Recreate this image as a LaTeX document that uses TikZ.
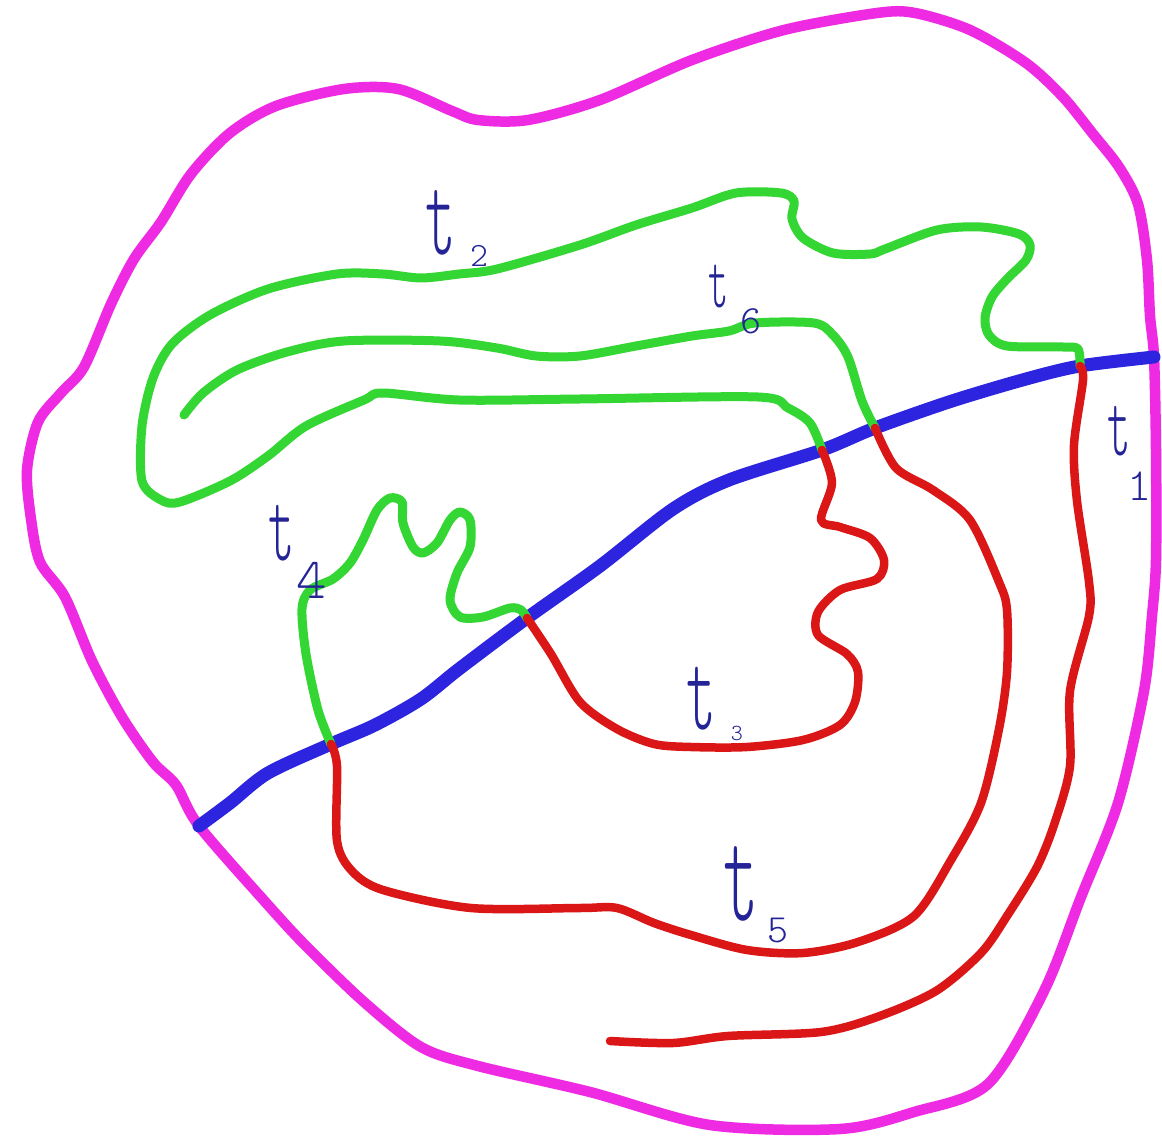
\documentclass[tikz,border=0pt]{standalone}
\definecolor{magC}{RGB}{238,42,226}
\definecolor{grnC}{RGB}{52,214,52}
\definecolor{bluC}{RGB}{44,36,222}
\definecolor{redC}{RGB}{218,22,22}
\definecolor{labC}{RGB}{36,36,150}
\tikzset{
  outline/.style={draw=magC, line width=10.5pt, line join=round},
  cutline/.style={draw=bluC, line width=13pt, line cap=round},
  gcurve/.style={draw=grnC, line width=9pt, line cap=round, line join=round},
  rcurve/.style={draw=redC, line width=8.5pt, line cap=round, line join=round},
  lab/.style={text=labC, inner sep=0pt, anchor=base},
}
\newcommand{\labfont}[1]{\fontsize{#1}{#1}\ttfamily\fontseries{l}\selectfont}
\begin{document}
\begin{tikzpicture}[x=1pt,y=-1pt]
\useasboundingbox (0,0) rectangle (1162,1147);
\fill[white] (0,0) rectangle (1162,1147);
% junctions
\coordinate (J1) at (1080,366);
\coordinate (J2) at (822,450);
\coordinate (J6) at (875,428);
\coordinate (J3) at (527,618);
\coordinate (J4) at (331,744);
\coordinate (B0) at (199,826);
\coordinate (B1) at (1154,357);
% magenta outline
\draw[outline] plot[smooth cycle, tension=0.5] coordinates {
(528,120) (600,100) (692,60) (784,30) (877,13) (915,13) (970,30) (1026,63)
(1063,97) (1093,134) (1119,167) (1138,204) (1147,260) (1150,316) (1154,357)
(1156,450) (1156,560) (1152,616) (1144,691) (1118,803) (1081,897) (1044,991)
(988,1084) (914,1112) (840,1129) (710,1125) (590,1092) (478,1066) (421,1047)
(364,1002) (306,946) (268,905) (199,826) (176,785) (153,762) (122,717) (92,661)
(65,597) (40,562) (31,519) (27,470) (38,422) (61,393) (84,367) (111,304)
(134,259) (161,222) (191,174) (230,133) (276,106) (344,89) (398,89) (452,111)
(478,120)};
% blue cut
\draw[cutline] plot[smooth, tension=0.5] coordinates {
(B0) (230,803) (268,773) (J4) (375,725) (421,699) (459,669) (J3) (600,566)
(673,509) (729,480) (J2) (J6) (952,401) (1026,379) (J1) (B1)};
% green t2
\draw[gcurve] plot[smooth, tension=0.5] coordinates {
(J1) (1078,349) (1063,347) (1007,346) (989,335) (985,318) (992,297) (1007,279)
(1026,260) (1030,245) (1019,234) (981,227) (937,230) (885,249) (870,254)
(833,253) (803,238) (792,219) (794,201) (781,193) (736,193) (692,208) (636,225)
(580,245) (497,269) (459,274) (421,278) (383,274) (337,274) (268,289) (210,315)
(172,344) (153,378) (142,426) (142,481) (161,500) (180,502) (230,481) (268,456)
(306,426) (364,400) (383,393) (459,400) (580,399) (758,397) (788,408) (810,423)
(J2)};
% green t6
\draw[gcurve] plot[smooth, tension=0.5] coordinates {
(J6) (862,401) (848,357) (833,335) (814,323) (755,323) (729,331) (692,336)
(636,346) (580,356) (536,356) (497,348) (440,341) (344,341) (287,352) (237,370)
(203,393) (184,415)};
% green t4
\draw[gcurve] plot[smooth, tension=0.5] coordinates {
(J4) (318,710) (306,654) (302,609) (310,590) (333,579) (350,563) (363,540)
(377,510) (390,498) (402,502) (403,523) (413,547) (423,553) (437,543) (450,520)
(460,512) (470,520) (470,547) (457,573) (450,600) (460,617) (483,617) (510,608)
(521,610) (J3)};
% red t1
\draw[rcurve] plot[smooth, tension=0.5] coordinates {
(J1) (1083,380) (1074,445) (1077,501) (1089,582) (1089,616) (1070,691) (1070,766)
(1055,822) (1037,867) (1007,916) (981,953) (936,991) (877,1017) (821,1032)
(728,1036) (673,1043) (610,1041)};
% red t3
\draw[rcurve] plot[smooth, tension=0.5] coordinates {
(J2) (832,483) (821,520) (840,527) (870,538) (884,560) (877,579) (840,590)
(818,612) (818,635) (847,654) (858,672) (855,702) (840,725) (803,740) (747,747)
(691,747) (654,744) (617,729) (580,702) (551,654) (J3)};
% red t5
\draw[rcurve] plot[smooth, tension=0.5] coordinates {
(J6) (896,468) (933,490) (970,520) (999,582) (1007,610) (1007,672) (999,729)
(981,803) (951,860) (914,916) (858,942) (803,953) (747,950) (691,935) (654,923)
(617,908) (580,908) (471,908) (383,890) (352,871) (337,841) (337,766) (J4)};
% labels
\node[lab, font=\labfont{116}] (t2) at (441,255) {\scalebox{0.5}[1]{t}};
\node[lab, font=\labfont{34}] (s2) at (479,267) {2};
\node[lab, font=\labfont{77}] (t6) at (719,308) {\scalebox{0.5}[1]{t}};
\node[lab, font=\labfont{40}] (s6) at (751,334) {6};
\node[lab, font=\labfont{89}] (t1) at (1119,455) {\scalebox{0.5}[1]{t}};
\node[lab, font=\labfont{46}] (s1) at (1140,500) {1};
\node[lab, font=\labfont{100}] (t4) at (282,560) {\scalebox{0.5}[1]{t}};
\node[lab, font=\labfont{58}] (s4) at (312,598) {4};
\node[lab, font=\labfont{113}] (t3) at (701,729) {\scalebox{0.5}[1]{t}};
\node[lab, font=\labfont{23}] (s3) at (737,740) {3};
\node[lab, font=\labfont{134}] (t5) at (741,920) {\scalebox{0.5}[1]{t}};
\node[lab, font=\labfont{40}] (s5) at (778,942) {5};
\end{tikzpicture}
\end{document}
